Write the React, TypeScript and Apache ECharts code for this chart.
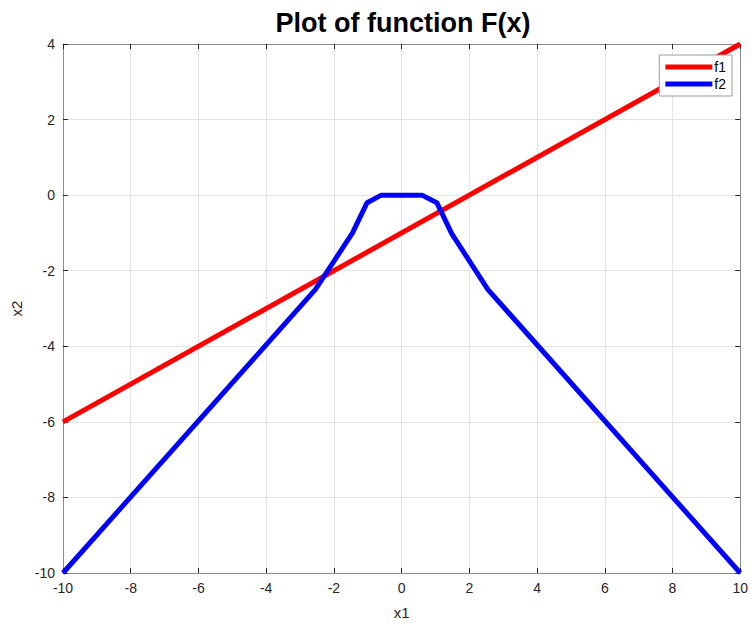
import React, { useEffect, useRef } from "react";
import * as echarts from "echarts";

const titleText = "Plot of function F(x)";
const xTicks = { min: -10, max: 10, interval: 2 };
const yTicks = { min: -10, max: 4, interval: 2 };
const f1Points: [number, number][] = [
  [-10, -6],
  [10, 4],
];
const f2Points: [number, number][] = [
  [-10, -10],
  [-2.55, -2.5],
  [-1.45, -1.0],
  [-1.02, -0.2],
  [-0.6, 0],
  [0.6, 0],
  [1.04, -0.2],
  [1.48, -1.02],
  [2.55, -2.5],
  [10, -10],
];
const seriesNames = ["f1", "f2"];

const FONT = "'Liberation Sans', Arial, Helvetica, sans-serif";
const AXIS_COLOR = "#8c8c8c";
const LABEL_COLOR = "#262626";

export default function App() {
  const ref = useRef<HTMLDivElement>(null);
  useEffect(() => {
    if (!ref.current) return;
    const chart = echarts.init(ref.current, undefined, { renderer: "svg" });
    const baseAxis = {
      type: "value" as const,
      axisLine: { show: true, onZero: false, lineStyle: { color: AXIS_COLOR, width: 1 } },
      axisTick: { show: true, inside: true, length: 5, lineStyle: { color: LABEL_COLOR } },
      splitLine: { show: true, lineStyle: { color: "#e3e3e3", width: 1 } },
    };
    chart.setOption({
      animation: false,
      backgroundColor: "#ffffff",
      textStyle: { fontFamily: FONT },
      grid: { left: 63, right: 7, top: 44, bottom: 45, containLabel: false },
      graphic: [
        {
          type: "text",
          x: 403,
          y: 23,
          style: {
            text: titleText,
            font: `bold 27px ${FONT}`,
            fill: "#000000",
            textAlign: "center",
            textVerticalAlign: "middle",
          },
        },
      ],
      legend: {
        data: seriesNames,
        orient: "vertical",
        right: 19,
        top: 55,
        padding: [5, 6, 5, 6],
        itemGap: 3,
        itemWidth: 47,
        itemHeight: 5,
        icon: "rect",
        backgroundColor: "#ffffff",
        borderColor: "#9a9a9a",
        borderWidth: 1,
        borderRadius: 0,
        textStyle: { fontSize: 14, color: "#000", fontFamily: FONT, padding: [0, 0, 0, -3] },
      },
      xAxis: [
        {
          ...baseAxis,
          ...xTicks,
          position: "bottom",
          name: "x1",
          nameLocation: "middle",
          nameGap: 32,
          nameTextStyle: { fontSize: 15, color: LABEL_COLOR, fontFamily: FONT },
          axisLabel: { fontSize: 14, color: LABEL_COLOR, margin: 8, fontFamily: FONT },
        },
        {
          ...baseAxis,
          ...xTicks,
          position: "top",
          axisLabel: { show: false },
          splitLine: { show: false },
        },
      ],
      yAxis: [
        {
          ...baseAxis,
          ...yTicks,
          position: "left",
          name: "x2",
          nameLocation: "middle",
          nameGap: 38,
          nameTextStyle: { fontSize: 15, color: LABEL_COLOR, fontFamily: FONT },
          axisLabel: { fontSize: 14, color: LABEL_COLOR, margin: 8, fontFamily: FONT },
        },
        {
          ...baseAxis,
          ...yTicks,
          position: "right",
          axisLabel: { show: false },
          splitLine: { show: false },
        },
      ],
      series: [
        {
          name: seriesNames[0],
          type: "line",
          data: f1Points,
          showSymbol: false,
          symbol: "none",
          lineStyle: { color: "#ff0000", width: 5 },
          itemStyle: { color: "#ff0000" },
          z: 2,
        },
        {
          name: seriesNames[1],
          type: "line",
          data: f2Points,
          showSymbol: false,
          symbol: "none",
          lineStyle: { color: "#0000ff", width: 5, join: "round" },
          itemStyle: { color: "#0000ff" },
          z: 3,
        },
      ],
    });
    return () => chart.dispose();
  }, []);
  return (
    <div
      ref={ref}
      style={{ position: "fixed", left: 0, top: 0, width: 751, height: 625 }}
    />
  );
}
